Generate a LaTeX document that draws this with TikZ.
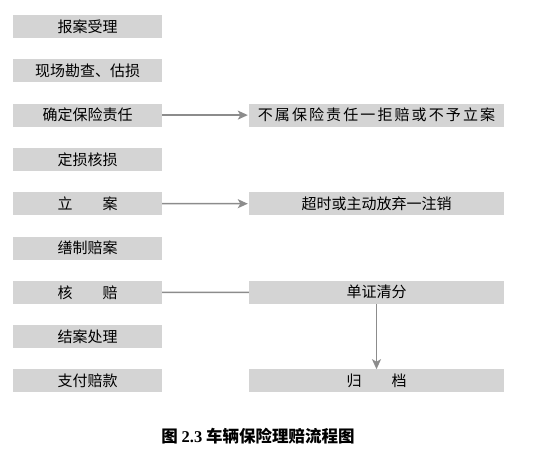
\documentclass[tikz,border=0pt]{standalone}
\usepackage{fontspec}
\setmainfont{Noto Sans CJK SC}
\newfontfamily\widefont[LetterSpace=14]{Noto Sans CJK SC}
\newfontfamily\numfont{Liberation Serif}
\usepackage{xcolor}
\definecolor{boxgray}{RGB}{212,212,212}
\definecolor{linegray}{RGB}{140,140,140}
\usepackage{tikz}
\usetikzlibrary{arrows.meta}
\tikzstyle{box} = [
    rectangle, text centered,
    minimum height=23pt,
    inner sep=0pt,
    fill=boxgray,
    font=\fontsize{15}{17}\selectfont,
]
\tikzstyle{stage} = [
    box,
    minimum width=149pt,
]
\tikzstyle{branch} = [
    box,
    minimum width=255pt,
]
\tikzstyle{link} = [draw=linegray, line width=1.5pt]
\tikzstyle{arrow} = [link, -{Stealth[length=10pt,width=9pt,inset=2.5pt]}]

\begin{document}
\begin{tikzpicture}[x=1pt,y=-1pt]
    \useasboundingbox (0,0) rectangle (538,448);

    % boxes
    \foreach \name [count=\i] in {报案受理, 现场勘查、估损, 确定保险责任, 定损核损, 立　　案, 缮制赔案, 核　　赔, 结案处理, 支付赔款} {
        \node (stage\i) at (87.5, 26.5+44.3*\i-44.3) [stage] {\name};
    }
    \node (reject) at (376.5, 115.1) [branch] {\widefont 不属保险责任一拒赔或不予立案};
    \node (cancel) at (376.5, 203.7) [branch] {超时或主动放弃一注销};
    \node (docs) at (376.5, 292.3) [branch] {单证清分};
    \node (archive) at (376.5, 380.9) [branch] {归　　档};

    % arrows
    \draw [arrow, shorten >=1pt] (stage3) -- (reject);
    \draw [arrow, shorten >=1pt] (stage5) -- (cancel);
    \draw [link] (stage7) -- (docs);
    \draw [arrow] (docs) -- (archive);

    % caption
    \node (caption) at (258, 436) {\fontsize{16.5}{18}\selectfont\bfseries 图 {\numfont 2.3} 车辆保险理赔流程图};
\end{tikzpicture}
\end{document}
